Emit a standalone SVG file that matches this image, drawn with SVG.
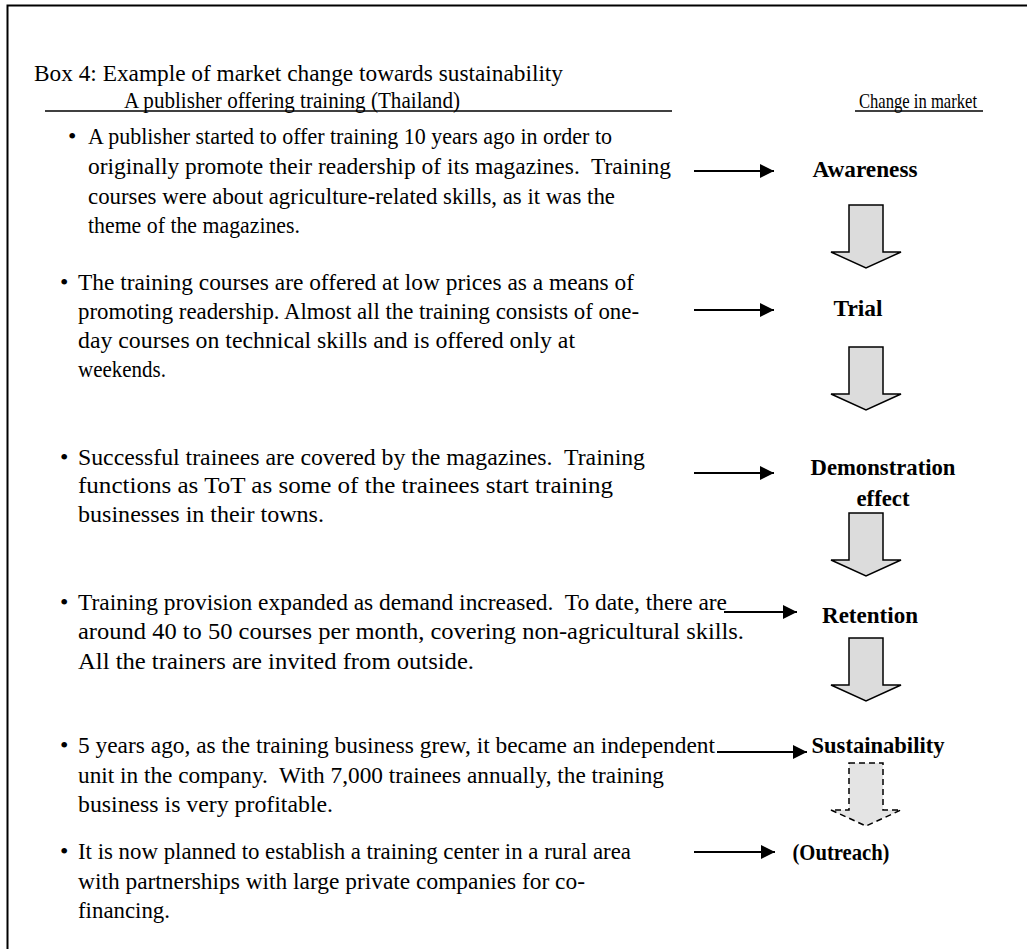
<svg xmlns="http://www.w3.org/2000/svg" width="1027" height="949" viewBox="0 0 1027 949" xml:space="preserve">
<style>
text{font-family:"Liberation Serif","Times New Roman",serif;fill:#000;white-space:pre}
.t{font-size:24px}
.h{font-size:21px}
.b{font-size:24px;font-weight:bold;text-anchor:middle}
.rule{stroke:#000;stroke-width:1.5}
.con{stroke:#000;stroke-width:2;fill:none}
.blk{fill:#dcdcdc;stroke:#000;stroke-width:1.5;stroke-linejoin:miter}
.dash{fill:#e4e4e4;stroke:#000;stroke-width:1.5;stroke-dasharray:6,4}
</style>
<defs>
<marker id="ah" markerWidth="14" markerHeight="14" refX="14" refY="7" orient="auto" markerUnits="userSpaceOnUse">
<path d="M0,0 L14,7 L0,14 Z" fill="#000"/>
</marker>
</defs>
<rect width="1027" height="949" fill="#fff"/>
<path d="M7.5,960 V5.5 H1040" fill="none" stroke="#000" stroke-width="2"/>

<g id="title">
<text class="t" x="34" y="81" textLength="529" lengthAdjust="spacingAndGlyphs">Box 4: Example of market change towards sustainability</text>
</g>
<g id="header-left">
<text class="t" x="124" y="108" textLength="336" lengthAdjust="spacingAndGlyphs">A publisher offering training (Thailand)</text>
<line class="rule" x1="45" y1="111" x2="672" y2="111"/>
</g>
<g id="header-right">
<text class="t h" x="859" y="108" textLength="118" lengthAdjust="spacingAndGlyphs">Change in market</text>
<line class="rule" x1="855" y1="111" x2="983" y2="111"/>
</g>

<g id="bullet1">
<text class="t" x="68" y="144">•</text>
<text class="t" x="88" y="144" textLength="524" lengthAdjust="spacingAndGlyphs">A publisher started to offer training 10 years ago in order to</text>
<text class="t" x="88" y="174" textLength="583" lengthAdjust="spacingAndGlyphs">originally promote their readership of its magazines.  Training</text>
<text class="t" x="88" y="204" textLength="527" lengthAdjust="spacingAndGlyphs">courses were about agriculture-related skills, as it was the</text>
<text class="t" x="88" y="233" textLength="212" lengthAdjust="spacingAndGlyphs">theme of the magazines.</text>
</g>
<g id="bullet2">
<text class="t" x="60" y="290">•</text>
<text class="t" x="78" y="290" textLength="556" lengthAdjust="spacingAndGlyphs">The training courses are offered at low prices as a means of</text>
<text class="t" x="78" y="319" textLength="561" lengthAdjust="spacingAndGlyphs">promoting readership. Almost all the training consists of one-</text>
<text class="t" x="78" y="348" textLength="497" lengthAdjust="spacingAndGlyphs">day courses on technical skills and is offered only at</text>
<text class="t" x="78" y="377" textLength="88" lengthAdjust="spacingAndGlyphs">weekends.</text>
</g>
<g id="bullet3">
<text class="t" x="60" y="465">•</text>
<text class="t" x="78" y="465" textLength="567" lengthAdjust="spacingAndGlyphs">Successful trainees are covered by the magazines.  Training</text>
<text class="t" x="78" y="493" textLength="535" lengthAdjust="spacingAndGlyphs">functions as ToT as some of the trainees start training</text>
<text class="t" x="78" y="522" textLength="246" lengthAdjust="spacingAndGlyphs">businesses in their towns.</text>
</g>
<g id="bullet4">
<text class="t" x="60" y="610">•</text>
<text class="t" x="78" y="610" textLength="649" lengthAdjust="spacingAndGlyphs">Training provision expanded as demand increased.  To date, there are</text>
<text class="t" x="78" y="639" textLength="666" lengthAdjust="spacingAndGlyphs">around 40 to 50 courses per month, covering non-agricultural skills.</text>
<text class="t" x="78" y="669" textLength="396" lengthAdjust="spacingAndGlyphs">All the trainers are invited from outside.</text>
</g>
<g id="bullet5">
<text class="t" x="60" y="753">•</text>
<text class="t" x="78" y="753" textLength="637" lengthAdjust="spacingAndGlyphs">5 years ago, as the training business grew, it became an independent</text>
<text class="t" x="78" y="783" textLength="586" lengthAdjust="spacingAndGlyphs">unit in the company.  With 7,000 trainees annually, the training</text>
<text class="t" x="78" y="812" textLength="255" lengthAdjust="spacingAndGlyphs">business is very profitable.</text>
</g>
<g id="bullet6">
<text class="t" x="60" y="859">•</text>
<text class="t" x="78" y="859" textLength="553" lengthAdjust="spacingAndGlyphs">It is now planned to establish a training center in a rural area</text>
<text class="t" x="78" y="889" textLength="507" lengthAdjust="spacingAndGlyphs">with partnerships with large private companies for co-</text>
<text class="t" x="78" y="918" textLength="92" lengthAdjust="spacingAndGlyphs">financing.</text>
</g>

<g id="stage-awareness"><text class="b" x="865" y="177" textLength="105" lengthAdjust="spacingAndGlyphs">Awareness</text></g>
<g id="stage-trial"><text class="b" x="858" y="316" textLength="49" lengthAdjust="spacingAndGlyphs">Trial</text></g>
<g id="stage-demonstration"><text class="b" x="883" y="475" textLength="145" lengthAdjust="spacingAndGlyphs">Demonstration</text><text class="b" x="883" y="506" textLength="53" lengthAdjust="spacingAndGlyphs">effect</text></g>
<g id="stage-retention"><text class="b" x="870" y="623" textLength="96" lengthAdjust="spacingAndGlyphs">Retention</text></g>
<g id="stage-sustainability"><text class="b" x="878" y="753" textLength="133" lengthAdjust="spacingAndGlyphs">Sustainability</text></g>
<g id="stage-outreach"><text class="b" x="841" y="860" textLength="97" lengthAdjust="spacingAndGlyphs">(Outreach)</text></g>

<g id="connectors">
<line class="con" x1="694" y1="171" x2="774" y2="171" marker-end="url(#ah)"/>
<line class="con" x1="694" y1="310" x2="774" y2="310" marker-end="url(#ah)"/>
<line class="con" x1="694" y1="473" x2="774" y2="473" marker-end="url(#ah)"/>
<line class="con" x1="724" y1="612" x2="797" y2="612" marker-end="url(#ah)"/>
<line class="con" x1="717" y1="752" x2="807" y2="752" marker-end="url(#ah)"/>
<line class="con" x1="694" y1="852" x2="775" y2="852" marker-end="url(#ah)"/>
<path class="blk" d="M849,205 H883 V252 H901 L866,268 L831,252 H849 Z"/>
<path class="blk" d="M849,347 H883 V394 H901 L866,410 L831,394 H849 Z"/>
<path class="blk" d="M849,513 H883 V560 H901 L866,576 L831,560 H849 Z"/>
<path class="blk" d="M849,638 H883 V685 H901 L866,701 L831,685 H849 Z"/>
<path class="dash" d="M849,763 H883 V810 H901 L866,826 L831,810 H849 Z"/>
</g>
</svg>
